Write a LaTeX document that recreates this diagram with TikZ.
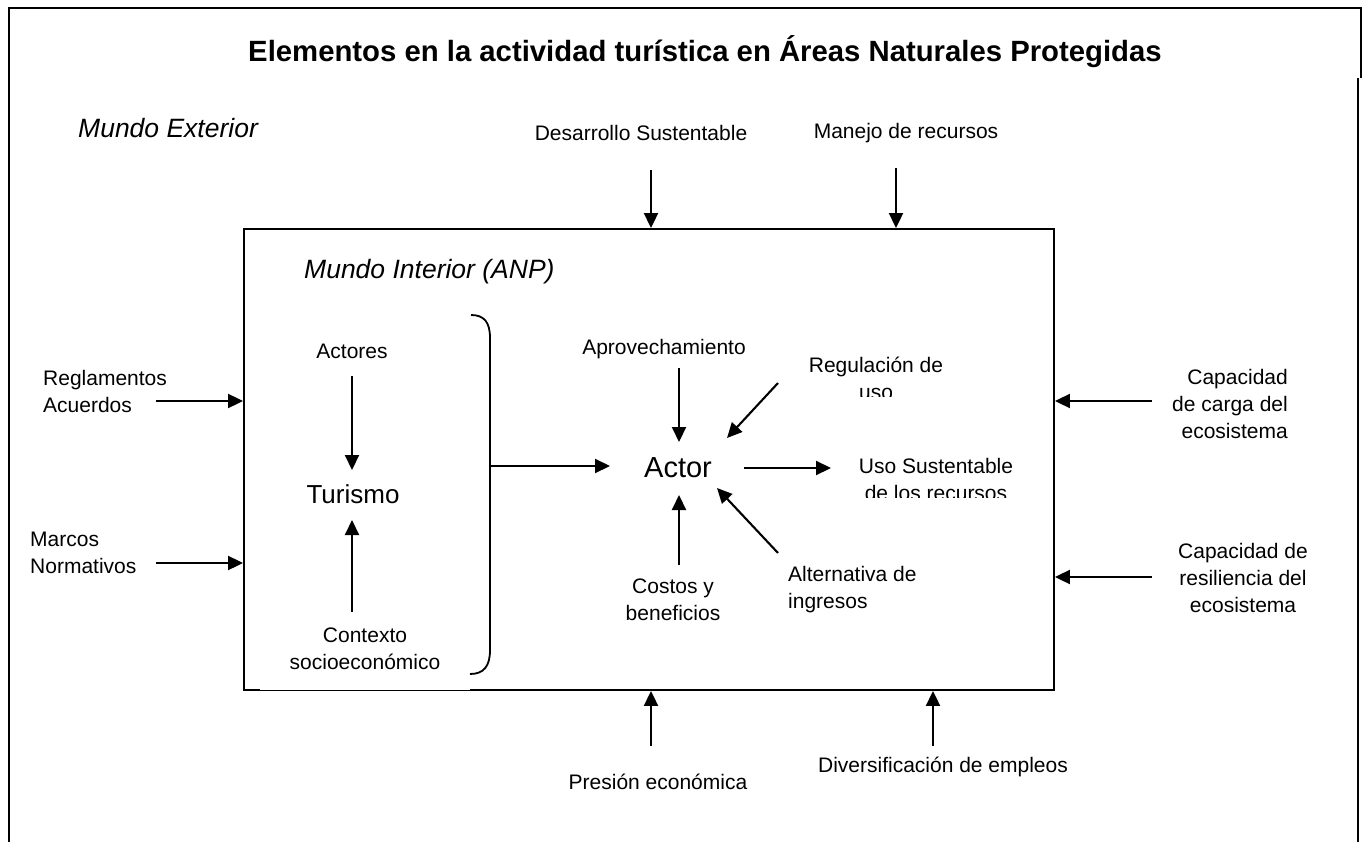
\documentclass[tikz,border=0pt]{standalone}
\usepackage{fontspec}
\setmainfont{Liberation Sans}
\usetikzlibrary{arrows.meta}
\begin{document}
\begin{tikzpicture}[x=1pt,y=-1pt,
  lbl/.style={inner sep=0pt, font=\fontsize{21}{27}\selectfont, align=center},
  arr/.style={line width=2.1pt, -{Triangle[length=15pt,width=14pt]}},
  frame/.style={line width=1.9pt}]
\useasboundingbox (0,0) rectangle (1367,842);
% outer frame
\draw[frame] (9,846) -- (9,8) -- (1361,8) -- (1361,78);
\draw[frame] (1358,78) -- (1358,846);
% title
\node[inner sep=0pt, font=\fontsize{29.3}{34}\selectfont\bfseries] (title) at (705,52) {Elementos en la actividad turística en Áreas Naturales Protegidas};
\node[inner sep=0pt, anchor=west, font=\fontsize{26.5}{30}\selectfont\itshape] (mext) at (78,128) {Mundo Exterior};
% inner box
\node[draw, frame, minimum width=810pt, minimum height=461pt, inner sep=0pt] (inner) at (649,459.5) {};
\fill[white] (260,684) rectangle (470,689.5);
\node[inner sep=0pt, anchor=west, font=\fontsize{26.5}{30}\selectfont\itshape] (mint) at (304,272) {Mundo Interior (ANP)};
% top labels
\node[lbl] (desa) at (641,133) {Desarrollo Sustentable};
\node[lbl] (mane) at (906,133) {Manejo de recursos};
\coordinate (desaS) at (651,170);
\coordinate (maneS) at (896,168);
\draw[arr] (desaS) -- (desaS |- inner.north);
\draw[arr] (maneS) -- (maneS |- inner.north);
% bottom labels
\node[lbl] (pres) at (658,782) {Presión económica};
\node[lbl] (dive) at (943,767) {Diversificación de empleos};
\coordinate (presS) at (651,746);
\coordinate (diveS) at (933,746);
\draw[arr] (presS) -- (presS |- inner.south);
\draw[arr] (diveS) -- (diveS |- inner.south);
% left labels
\node[lbl, align=left, anchor=west] (regl) at (43,391) {Reglamentos\\Acuerdos};
\node[lbl, align=left, anchor=west] (marc) at (30,553) {Marcos\\Normativos};
\coordinate (reglS) at (156,401);
\coordinate (marcS) at (156,563);
\draw[arr] (reglS) -- (reglS -| inner.west);
\draw[arr] (marcS) -- (marcS -| inner.west);
% right labels
\node[lbl, align=right, anchor=east] (capc) at (1288,404) {Capacidad\\de carga del\\ecosistema};
\node[lbl] (capr) at (1243,578) {Capacidad de\\resiliencia del\\ecosistema};
\coordinate (capcS) at (1152,401);
\coordinate (caprS) at (1152,577);
\draw[arr] (capcS) -- (capcS -| inner.east);
\draw[arr] (caprS) -- (caprS -| inner.east);
% left inner part
\node[lbl] (acts) at (352,351) {Actores};
\node[inner sep=0pt, font=\fontsize{26}{30}\selectfont] (turi) at (353,494) {Turismo};
\node[lbl] (cont) at (365,649) {Contexto\\socioeconómico};
\coordinate (actsS) at (352,376);
\coordinate (contN) at (352,612);
\draw[arr] (actsS) -- (352,470);
\draw[arr] (contN) -- (352,520);
% bracket
\coordinate (brM) at (490,466);
\draw[line width=1.8pt] (471,315) .. controls (484,315) and (490,322) .. (490,338) -- (490,650) .. controls (490,666) and (484,674) .. (470,674);
% actor
\node[inner sep=0pt, font=\fontsize{29}{34}\selectfont] (actor) at (678,468) {Actor};
\draw[arr] (brM) -- (610,466);
\node[lbl] (apro) at (664,349) {Aprovechamiento};
\node[lbl] (regu) at (876,378) {Regulación de\\uso};
\node[lbl] (usos) at (936,479) {Uso Sustentable\\de los recursos};
\node[lbl] (cost) at (673,600) {Costos y\\beneficios};
\node[lbl, align=left, anchor=west] (alte) at (788,590) {Alternativa de\\ingresos};
% clipped text bottoms as in the reference
\fill[white] (850,397) rectangle (905,403);
\fill[white] (855,497.5) rectangle (1020,503);
\draw[arr] (679,368) -- (679,442);
\draw[arr] (778,383) -- (727,438);
\draw[arr] (744,468) -- (831,468);
\draw[arr] (679,565) -- (679,495);
\draw[arr] (778,553) -- (717,488);
\end{tikzpicture}
\end{document}
